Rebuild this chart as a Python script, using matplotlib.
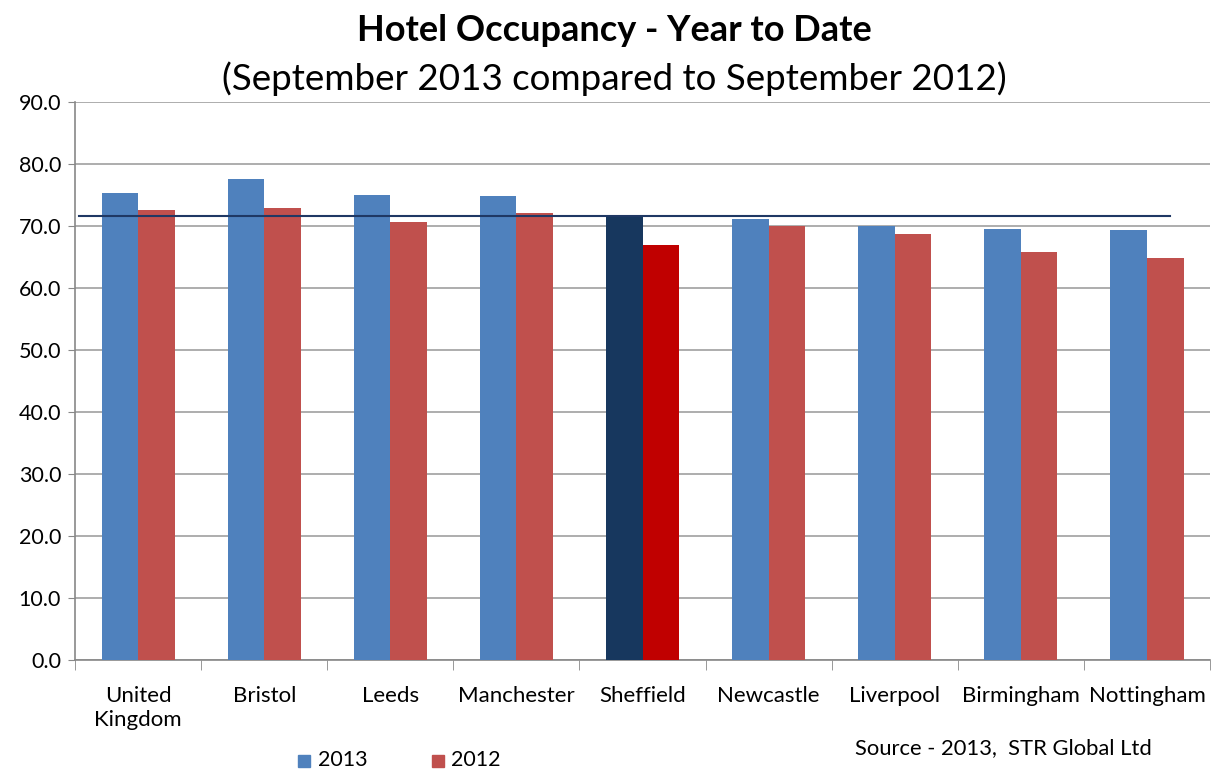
import matplotlib
matplotlib.use("Agg")
import matplotlib.pyplot as plt
import numpy as np
from matplotlib.patches import Rectangle

categories = ["United\nKingdom", "Bristol", "Leeds", "Manchester", "Sheffield",
              "Newcastle", "Liverpool", "Birmingham", "Nottingham"]
occ_2013 = [75.3, 77.6, 75.1, 74.8, 71.7, 71.2, 70.1, 69.6, 69.3]
occ_2012 = [72.6, 72.9, 70.7, 72.1, 66.9, 70.1, 68.8, 65.8, 64.9]
highlight = "Sheffield"
ref_value = 71.7
yticks = [0, 10, 20, 30, 40, 50, 60, 70, 80, 90]

plt.rcParams['font.family'] = ['Lato', 'DejaVu Sans']

blue = "#4F81BD"
red = "#C0504D"
dark_blue = "#17375E"
dark_red = "#C00000"

fig = plt.figure(figsize=(12.24, 7.74), dpi=100)
ax = fig.add_axes([0.0613, 0.1473, 0.9273, 0.7207])

x = np.arange(len(categories))
w = 0.29
c13 = [dark_blue if c == highlight else blue for c in categories]
c12 = [dark_red if c == highlight else red for c in categories]
ax.bar(x - w / 2, occ_2013, width=w, color=c13, zorder=3)
ax.bar(x + w / 2, occ_2012, width=w, color=c12, zorder=3)

ax.plot([-0.47, 8.18], [ref_value, ref_value], color="#1F3864", lw=1.5, zorder=4)

ax.set_xlim(-0.5, len(categories) - 0.5)
ax.set_ylim(0, 90)
ax.set_yticks(yticks)
ax.set_yticklabels([f"{v:.1f}" for v in yticks], fontsize=15.5)
ax.yaxis.grid(True, color="#A0A0A0", lw=1.2, zorder=0)
ax.set_axisbelow(True)
ax.tick_params(axis='y', length=5, color="#888888", pad=5)

ax.set_xticks(x)
ax.set_xticklabels(categories, fontsize=16, linespacing=1.2)
ax.tick_params(axis='x', length=0, pad=19)
ax.set_xticks(np.arange(-0.5, len(categories), 1), minor=True)
ax.tick_params(axis='x', which='minor', length=7, color="#888888")

for s in ['top', 'right']:
    ax.spines[s].set_visible(False)
for s in ['left', 'bottom']:
    ax.spines[s].set_color("#888888")
    ax.spines[s].set_linewidth(1.2)

fig.text(0.502, 0.960, "Hotel Occupancy - Year to Date", ha='center', va='center',
         fontsize=26, fontweight='bold')
fig.text(0.502, 0.898, "(September 2013 compared to September 2012)", ha='center',
         va='center', fontsize=26.5)

# legend
fig.patches.append(Rectangle((298 / 1224, 1 - 767 / 774), 12 / 1224, 12 / 774,
                             transform=fig.transFigure, color=blue))
fig.text(318 / 1224, 1 - 760 / 774, "2013", va='center', fontsize=15.5)
fig.patches.append(Rectangle((432 / 1224, 1 - 767 / 774), 12 / 1224, 12 / 774,
                             transform=fig.transFigure, color=red))
fig.text(451 / 1224, 1 - 760 / 774, "2012", va='center', fontsize=15.5)

fig.text(855 / 1224, 1 - 748 / 774, "Source - 2013,  STR Global Ltd", va='center',
         fontsize=15.8)

fig.savefig("out.png", dpi=100)
